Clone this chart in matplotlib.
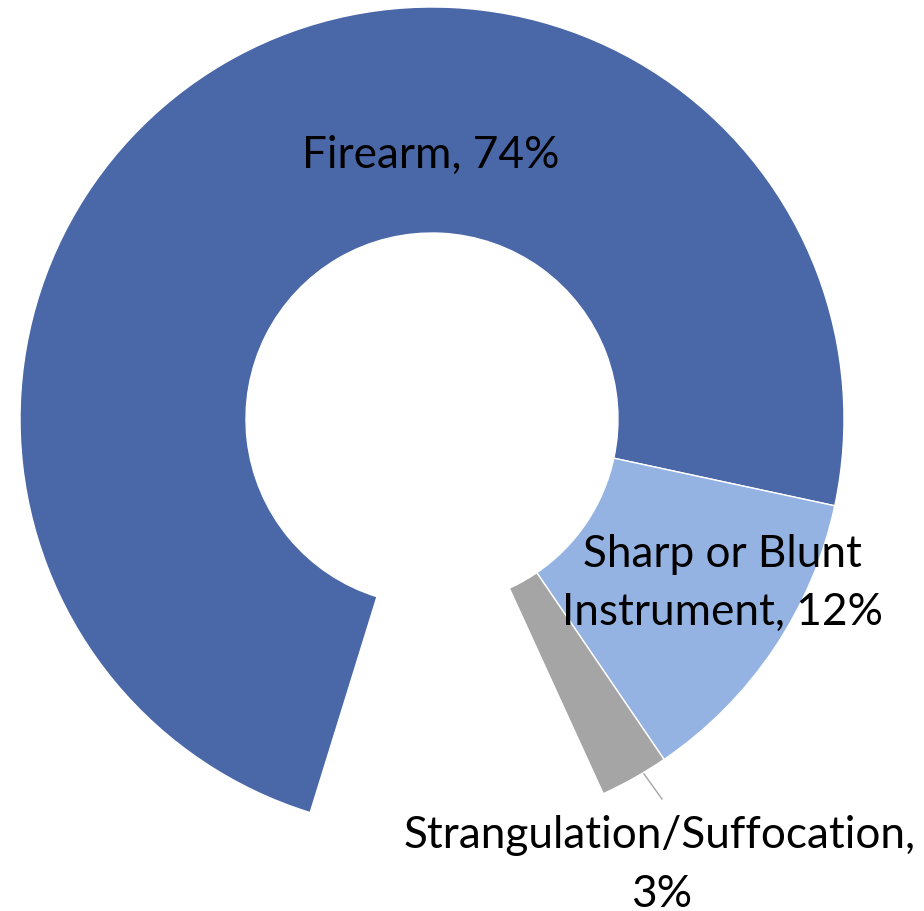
import matplotlib
matplotlib.use("Agg")
import matplotlib.pyplot as plt

# data (hidden remainder keeps the gap at the bottom)
causes = ["Firearm", "Sharp or Blunt Instrument", "Strangulation/Suffocation", ""]
shares = [73.6, 12.1, 2.7, 11.6]
colors = ["#4A67A8", "#95B3E2", "#A5A5A5", "none"]

W, H = 924, 912
fig = plt.figure(figsize=(W / 100, H / 100), dpi=100)
ax = fig.add_axes([0, 0, 1, 1])

cx, cy, R, r = 432, H - 420, 412, 186
wedges, _ = ax.pie(shares, colors=colors, radius=R, center=(cx, cy),
                   startangle=252.8, counterclock=False, frame=True,
                   wedgeprops=dict(width=R - r, edgecolor="white", linewidth=1))
wedges[-1].set_edgecolor("none")
ax.set_xlim(0, W)
ax.set_ylim(0, H)
ax.set_aspect("equal")
ax.axis("off")

fs = 31.8
font = "Lato"
pct = [f"{round(s)}%" for s in shares]

# label lines: (text, x, baseline y in image pixels)
lines = [
    (f"{causes[0]}, {pct[0]}", 431, 168),
    ("Sharp or Blunt", 722, 567),
    (f"Instrument, {pct[1]}", 723, 625),
    (f"{causes[2]},", 660, 848),
    (pct[2], 662, 907),
]
for txt, x, y in lines:
    ax.text(x, H - y, txt, ha="center", va="baseline", fontsize=fs, family=font)

ax.plot([644, 662], [H - 775, H - 800], color="#A5A5A5", lw=1)

fig.savefig("out.png", dpi=100)
